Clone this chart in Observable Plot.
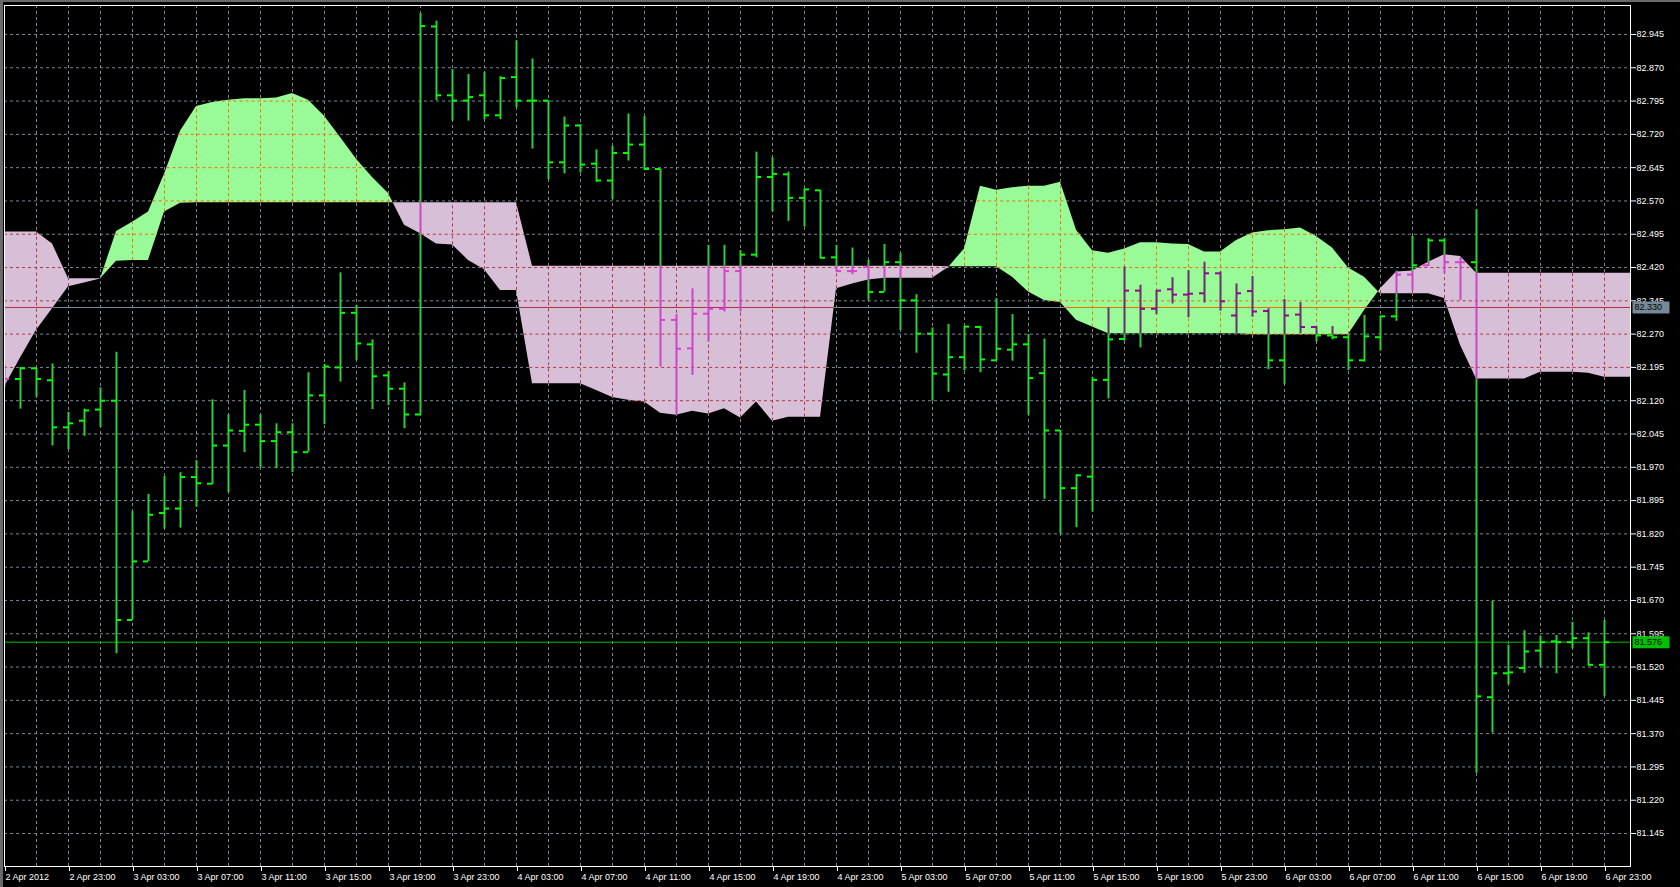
<!DOCTYPE html>
<html><head><meta charset="utf-8">
<script src="https://cdn.jsdelivr.net/npm/d3@7"></script>
<script src="https://cdn.jsdelivr.net/npm/@observablehq/plot@0.6"></script>
<style>
html,body{margin:0;padding:0;background:#000;overflow:hidden}
#chart svg{display:block;box-shadow:inset 3px 2px 0 #6a6a6a}
</style></head><body><div id="chart"></div>
<script>
// ---- tick labels ----
const timeLabels = ["2 Apr 2012","2 Apr 23:00","3 Apr 03:00","3 Apr 07:00","3 Apr 11:00","3 Apr 15:00","3 Apr 19:00","3 Apr 23:00",
  "4 Apr 03:00","4 Apr 07:00","4 Apr 11:00","4 Apr 15:00","4 Apr 19:00","4 Apr 23:00","5 Apr 03:00","5 Apr 07:00","5 Apr 11:00",
  "5 Apr 15:00","5 Apr 19:00","5 Apr 23:00","6 Apr 03:00","6 Apr 07:00","6 Apr 11:00","6 Apr 15:00","6 Apr 19:00","6 Apr 23:00"];
const priceTicks = [81.145,81.220,81.295,81.370,81.445,81.520,81.595,81.670,81.745,81.820,81.895,81.970,82.045,82.120,82.195,
  82.270,82.345,82.420,82.495,82.570,82.645,82.720,82.795,82.870,82.945];

// ---- hourly OHLC bars (2 Apr 19:00 .. 6 Apr 23:00) ----
const open = [82.180,82.169,82.193,82.166,82.060,82.075,82.100,82.120,81.626,81.758,81.867,81.877,81.948,81.933,82.019,82.052,82.066,82.029,82.049,82.004,
  82.132,82.195,82.318,82.247,82.177,82.147,82.089,82.963,82.808,82.796,82.808,82.763,82.849,82.796,82.796,82.657,82.740,82.654,82.616,82.678,
  82.697,82.642,82.302,82.238,82.316,82.327,82.412,82.449,82.624,82.630,82.577,82.594,82.443,82.412,82.421,82.365,82.432,82.346,82.271,82.179,
  82.218,82.286,82.211,82.235,82.247,82.182,82.053,81.923,81.949,82.167,82.259,82.368,82.327,82.371,82.359,82.362,82.407,82.312,82.367,82.322,
  82.211,82.314,82.286,82.267,82.263,82.211,82.263,82.310,82.404,82.425,82.481,82.432,82.432,81.452,81.506,81.518,81.557,81.578,81.576,81.585,81.525];
const high = [82.200,82.195,82.193,82.203,82.094,82.101,82.149,82.229,81.870,81.909,81.949,81.958,81.985,82.122,82.088,82.143,82.088,82.068,82.068,82.183,
  82.202,82.408,82.335,82.257,82.186,82.160,82.992,82.975,82.866,82.855,82.860,82.850,82.931,82.890,82.796,82.759,82.742,82.685,82.693,82.766,
  82.760,82.642,82.314,82.372,82.470,82.470,82.458,82.680,82.667,82.635,82.597,82.594,82.470,82.464,82.436,82.472,82.451,82.359,82.284,82.292,
  82.287,82.288,82.350,82.314,82.269,82.259,82.053,81.953,82.173,82.329,82.421,82.380,82.368,82.397,82.413,82.432,82.410,82.383,82.400,82.327,
  82.348,82.341,82.287,82.287,82.269,82.312,82.310,82.412,82.490,82.485,82.485,82.442,82.550,81.668,81.569,81.602,81.589,81.591,81.621,81.597,81.625];
const low = [82.150,82.101,82.128,82.018,82.010,82.040,82.060,81.550,81.626,81.758,81.831,81.833,81.880,81.931,81.913,82.003,81.969,81.967,81.958,82.004,
  82.066,82.162,82.211,82.100,82.109,82.057,82.087,82.796,82.750,82.750,82.753,82.753,82.780,82.687,82.618,82.631,82.633,82.612,82.573,82.660,
  82.639,82.196,82.090,82.177,82.252,82.320,82.320,82.442,82.545,82.524,82.511,82.440,82.410,82.404,82.346,82.365,82.278,82.227,82.119,82.139,
  82.187,82.183,82.211,82.209,82.087,81.898,81.820,81.834,81.869,82.124,82.254,82.239,82.314,82.338,82.307,82.340,82.322,82.272,82.308,82.190,
  82.157,82.271,82.252,82.257,82.188,82.207,82.232,82.299,82.368,82.422,82.406,82.346,81.281,81.371,81.480,81.506,81.520,81.505,81.561,81.523,81.454];
const close = [82.169,82.193,82.169,82.060,82.069,82.098,82.120,81.626,81.758,81.863,81.877,81.948,81.934,82.019,82.053,82.066,82.029,82.049,82.004,82.132,
  82.197,82.318,82.249,82.175,82.147,82.089,82.964,82.808,82.796,82.804,82.763,82.847,82.796,82.796,82.657,82.740,82.652,82.616,82.678,82.697,
  82.642,82.302,82.237,82.316,82.327,82.412,82.449,82.624,82.631,82.577,82.596,82.442,82.412,82.412,82.365,82.432,82.346,82.271,82.181,82.218,
  82.287,82.213,82.237,82.247,82.171,82.053,81.923,81.952,82.167,82.258,82.368,82.327,82.368,82.359,82.361,82.407,82.344,82.362,82.321,82.211,
  82.312,82.286,82.267,82.263,82.211,82.265,82.310,82.404,82.425,82.481,82.432,82.432,81.454,81.506,81.508,81.555,81.576,81.576,81.585,81.525,81.576];

// ---- Ichimoku cloud (Senkou span A / B), per bar slot incl. 2 future slots ----
const spanA = [82.151,82.216,82.279,82.327,82.377,82.385,82.394,82.501,82.522,82.545,82.630,82.727,82.783,82.792,82.797,82.800,82.800,82.802,82.812,82.797,
  82.761,82.713,82.664,82.623,82.587,82.515,82.496,82.473,82.471,82.436,82.415,82.368,82.368,82.158,82.158,82.158,82.158,82.143,82.127,82.121,
  82.117,82.092,82.087,82.096,82.090,82.102,82.081,82.117,82.074,82.083,82.083,82.083,82.372,82.383,82.392,82.396,82.396,82.396,82.396,82.420,
  82.462,82.603,82.594,82.600,82.603,82.603,82.612,82.504,82.458,82.452,82.462,82.476,82.476,82.473,82.472,82.455,82.455,82.481,82.498,82.503,
  82.505,82.509,82.490,82.464,82.419,82.398,82.361,82.361,82.361,82.361,82.350,82.245,82.169,82.169,82.169,82.169,82.184,82.184,82.184,82.182,
  82.173,82.173,82.173];
const spanB = [82.500,82.500,82.500,82.473,82.395,82.395,82.395,82.434,82.436,82.436,82.545,82.565,82.566,82.566,82.566,82.566,82.566,82.566,82.566,82.566,
  82.566,82.566,82.566,82.566,82.566,82.566,82.566,82.566,82.566,82.566,82.566,82.566,82.566,82.423,82.423,82.423,82.423,82.423,82.423,82.423,
  82.423,82.423,82.423,82.423,82.423,82.423,82.423,82.423,82.423,82.423,82.423,82.423,82.423,82.423,82.423,82.423,82.423,82.423,82.423,82.422,
  82.422,82.422,82.422,82.398,82.365,82.346,82.341,82.301,82.286,82.271,82.271,82.271,82.271,82.271,82.271,82.271,82.271,82.271,82.269,82.269,
  82.269,82.269,82.269,82.269,82.269,82.323,82.372,82.410,82.412,82.432,82.449,82.445,82.407,82.407,82.407,82.407,82.407,82.407,82.407,82.407,
  82.407,82.407,82.407];

const lastPrice = 81.576;   // bid line
const levelPrice = 82.330;  // horizontal level line

// ---- colours ----
const C = {
  grid: "#778899", gridOnGreen: "#ef7301", gridOnPink: "#af3741",
  kumoUp: "#98fb98", kumoDown: "#d8bfd8",
  stem: {n: "#32cd32", g: "#6c2c6c", p: "#c846c8"},
  tick: {n: "#00ff00", g: "#980498", p: "#d840d8"}
};

// ---- derived structures ----
const cloud = [];
for (let i = 0; i < spanA.length; i++) {
  cloud.push({x: i, a: spanA[i], b: spanB[i]});
  if (i + 1 < spanA.length) {
    const d0 = spanA[i] - spanB[i], d1 = spanA[i + 1] - spanB[i + 1];
    if (d0 * d1 < 0) {
      const s = d0 / (d0 - d1);
      const v = spanA[i] + (spanA[i + 1] - spanA[i]) * s;
      cloud.push({x: i + s, a: v, b: v});
    }
  }
}
function sRange(f0, f1, p, le) {
  const df = f1 - f0;
  if (Math.abs(df) < 1e-12) return (le ? f0 <= p : f0 >= p) ? [0, 1] : null;
  const r = (p - f0) / df;
  if (le === (df > 0)) return [0, Math.min(1, r)];
  return [Math.max(0, r), 1];
}
function overCloud(p) {
  const out = [];
  for (let k = 0; k < cloud.length - 1; k++) {
    const q0 = cloud[k], q1 = cloud[k + 1];
    const lo0 = Math.min(q0.a, q0.b), lo1 = Math.min(q1.a, q1.b);
    const hi0 = Math.max(q0.a, q0.b), hi1 = Math.max(q1.a, q1.b);
    const r1 = sRange(lo0, lo1, p, true), r2 = sRange(hi0, hi1, p, false);
    if (!r1 || !r2) continue;
    const s0 = Math.max(r1[0], r2[0]), s1 = Math.min(r1[1], r2[1]);
    if (s1 - s0 < 1e-9) continue;
    const kind = (q0.a - q0.b) + (q1.a - q1.b) > 0 ? "g" : "p";
    const x1 = q0.x + (q1.x - q0.x) * s0, x2 = q0.x + (q1.x - q0.x) * s1;
    const last = out[out.length - 1];
    if (last && last.kind === kind && Math.abs(last.x2 - x1) < 1e-9) last.x2 = x2;
    else out.push({y: p, x1, x2, kind});
  }
  return out;
}
const hGridCloud = priceTicks.flatMap(overCloud);
const levelCloud = overCloud(levelPrice);
const vGridIdx = d3.range(2, open.length, 2);
const vGridCloud = vGridIdx.map(i => ({x: i, y1: Math.min(spanA[i], spanB[i]), y2: Math.max(spanA[i], spanB[i]),
  kind: spanA[i] > spanB[i] ? "g" : "p"})).filter(d => d.y2 - d.y1 > 1e-9);

const stems = [], ticks = [];
open.forEach((o, i) => {
  const lo = Math.min(spanA[i], spanB[i]), hi = Math.max(spanA[i], spanB[i]);
  const kind = spanA[i] > spanB[i] ? "g" : "p";
  const L = low[i], H = high[i];
  [[L, Math.min(H, lo), "n"], [Math.max(L, lo), Math.min(H, hi), kind], [Math.max(L, hi), H, "n"]]
    .forEach(([y1, y2, k]) => { if (y2 > y1) stems.push({x: i, y1, y2, k}); });
  const at = v => (v >= lo && v <= hi) ? kind : "n";
  ticks.push({x: i, y: o, side: "o", k: at(o)});
  ticks.push({x: i, y: close[i], side: "c", k: at(close[i])});
});
const labelPos = timeLabels.map((_, k) => 4 * k);
const boxSymbol = {draw(ctx) { ctx.rect(-18, -6, 37, 12); }};
const gridCol = k => k === "g" ? C.gridOnGreen : C.gridOnPink;

const chart = Plot.plot({
  width: 1680, height: 887,
  marginLeft: 4, marginRight: 50, marginTop: 5, marginBottom: 21,
  x: {domain: [0, 101.625]},
  y: {domain: [81.0707, 83.0103]},
  color: {type: "identity"},
  style: {background: "#000", fontFamily: "'Liberation Sans', Arial, sans-serif", fontSize: "9px", color: "white"},
  marks: [
    Plot.frame({fill: "#000"}),
    Plot.gridY(priceTicks, {stroke: C.grid, strokeOpacity: 1, strokeDasharray: "3,3"}),
    Plot.gridX(vGridIdx, {stroke: C.grid, strokeOpacity: 1, strokeDasharray: "3,3"}),
    Plot.areaY(cloud, {x: "x", y1: "b", y2: d => Math.max(d.a, d.b), fill: C.kumoUp, clip: true}),
    Plot.areaY(cloud, {x: "x", y1: "a", y2: d => Math.max(d.a, d.b), fill: C.kumoDown, clip: true}),
    Plot.ruleY(hGridCloud, {y: "y", x1: "x1", x2: "x2", stroke: d => gridCol(d.kind), strokeDasharray: "3,3", clip: true}),
    Plot.ruleX(vGridCloud, {x: "x", y1: "y1", y2: "y2", stroke: d => gridCol(d.kind), strokeDasharray: "3,3"}),
    Plot.ruleY([levelPrice], {stroke: C.grid}),
    Plot.ruleY(levelCloud, {y: "y", x1: "x1", x2: "x2", stroke: d => gridCol(d.kind), clip: true}),
    Plot.ruleY([lastPrice], {stroke: "#00c000"}),
    Plot.ruleX(stems, {x: "x", y1: "y1", y2: "y2", stroke: d => C.stem[d.k], strokeWidth: 2, clip: true}),
    Plot.ruleY(ticks.filter(d => d.side === "o"), {y: "y", x1: "x", x2: "x", insetLeft: -5, insetRight: 0, stroke: d => C.tick[d.k], strokeWidth: 2, clip: true}),
    Plot.ruleY(ticks.filter(d => d.side === "c"), {y: "y", x1: "x", x2: "x", insetLeft: 0, insetRight: -5, stroke: d => C.tick[d.k], strokeWidth: 2, clip: true}),
    Plot.frame({stroke: "white"}),
    Plot.axisY(priceTicks, {anchor: "right", tickSize: 5, tickPadding: 1, tickFormat: d => d.toFixed(3), color: "white", fontSize: 9, label: null}),
    Plot.axisX(labelPos, {anchor: "bottom", tickSize: 5, tickPadding: 2, tickFormat: d => timeLabels[d / 4], textAnchor: "start", dx: 1, color: "white", fontSize: 9, label: null}),
    Plot.dot([levelPrice], {y: d => d, frameAnchor: "right", dx: 20, symbol: boxSymbol, r: 3, fill: "#778899", stroke: null}),
    Plot.text([levelPrice], {y: d => d, text: d => d.toFixed(3), frameAnchor: "right", dx: 4, textAnchor: "start", fill: "#000", fontSize: 9}),
    Plot.dot([lastPrice], {y: d => d, frameAnchor: "right", dx: 20, symbol: boxSymbol, r: 3, fill: "#00c000", stroke: null}),
    Plot.text([lastPrice], {y: d => d, text: d => d.toFixed(3), frameAnchor: "right", dx: 4, textAnchor: "start", fill: "#000", fontSize: 9})
  ]
});
document.getElementById("chart").appendChild(chart);
</script></body></html>
